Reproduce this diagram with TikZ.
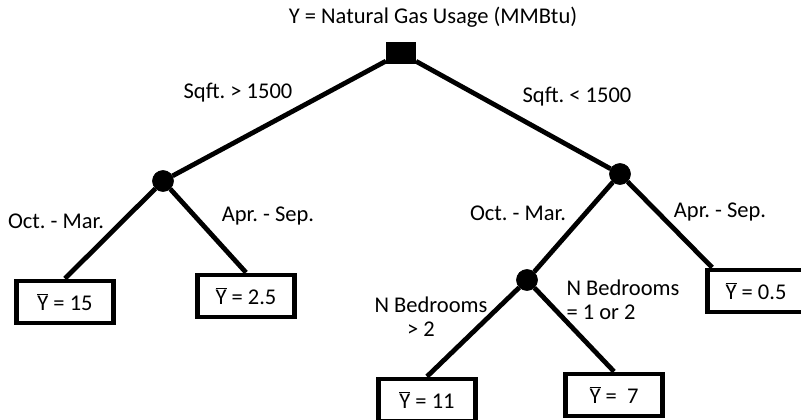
\documentclass[tikz,border=0pt]{standalone}
\usepackage{fontspec}
\setmainfont{Carlito}
\frenchspacing
\usetikzlibrary{positioning}
\tikzset{
  rootbox/.style = {draw, fill, rectangle, minimum width=21pt, minimum height=15pt, inner sep=0pt},
  split/.style   = {draw, fill, circle, minimum size=15pt, inner sep=0pt},
  leaf/.style    = {draw, line width=3.4pt, rectangle, minimum width=69pt, minimum height=30pt, inner sep=0pt},
  edge/.style    = {line width=3.4pt},
  lbl/.style     = {align=left},
}
\newcommand{\ybar}{$\overline{\mbox{Y}}$}

\begin{document}
\begin{tikzpicture}[x=0.025cm,y=-0.025cm,font=\fontsize{16}{18}\selectfont]
\useasboundingbox (0,0) rectangle (801,420);
% split nodes
\node[rootbox] (root) at (401,53) {};
\node[split] (sq) at (163,181) {};
\node[split] (sl) at (620,174) {};
\node[split] (bd) at (527,280) {};
% leaves
\node[leaf] (l15) at (65,302) {\ybar{} = 15};
\node[leaf] (l25) at (246,296) {\ybar{} = 2.5};
\node[leaf] (l05) at (756,291) {\ybar{} =\ 0.5};
\node[leaf] (l11) at (427,400) {\ybar{} =\ 11};
\node[leaf] (l7) at (614,395) {\ybar{} =\ \ 7};
% edges
\draw[edge] (root) -- (sq);
\draw[edge] (root) -- (sl);
\draw[edge] (sq) -- (l15.north);
\draw[edge] (sq) -- (l25.north);
\draw[edge] (sl) -- (bd);
\draw[edge] (sl) -- ([xshift=5pt]l05.north west);
\draw[edge] (bd) -- (l11.north);
\draw[edge] (bd) -- (l7.north);
% labels
\node (title) at (433,17) {Y = Natural Gas Usage (MMBtu)};
\node (big) at (238,93) {Sqft. > 1500};
\node (small) at (577,97) {Sqft. < 1500};
\node (win1) at (56,221) {Oct. - Mar.};
\node (sum1) at (268,216) {Apr. - Sep.};
\node (win2) at (518,213) {Oct. - Mar.};
\node (sum2) at (720,212) {Apr. - Sep.};
\node[align=center] (many) at (431,317) {N Bedrooms\\[-1pt]\hspace*{-0.9em}> 2};
\node[lbl] (few) at (623,300) {N Bedrooms\\[-1pt]= 1 or 2};
\end{tikzpicture}
\end{document}
